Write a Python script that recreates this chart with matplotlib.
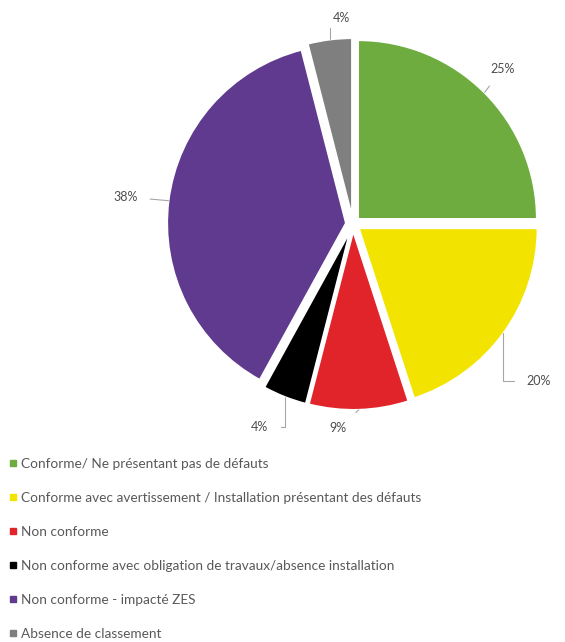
import numpy as np
import matplotlib
matplotlib.use("Agg")
from matplotlib import pyplot as plt
from matplotlib.lines import Line2D

categories = ["Conforme/ Ne présentant pas de défauts",
              "Conforme avec avertissement / Installation présentant des défauts",
              "Non conforme",
              "Non conforme avec obligation de travaux/absence installation",
              "Non conforme - impacté ZES",
              "Absence de classement"]
values = [25, 20, 9, 4, 38, 4]
colors = ["#6fac3f", "#f2e400", "#e1242a", "#000000", "#603a8e", "#7f7f7f"]

# label placement (angle in degrees, distance in radii) and leader style
label_pos = [(46, 1.2), (-40.3, 1.36), (-94.2, 1.14), (-114.6, 1.25), (173.2, 1.28), (93.3, 1.15)]
leaders = ["arc3", "angle,angleA=0,angleB=90", "arc3",
           "angle,angleA=0,angleB=90", "arc3", "angle,angleA=0,angleB=90"]

plt.rcParams['font.family'] = ['Lato', 'DejaVu Sans']
txt_color = "#595959"

fig = plt.figure(figsize=(5.65, 6.42), dpi=100)
ax = fig.add_axes([0, 0, 1, 1])

cx, cy, r = 353, 418, 179
wedges, _ = ax.pie(values, colors=colors, startangle=90, counterclock=False,
                   center=(cx, cy), radius=r, explode=[7] * len(values),
                   wedgeprops=dict(edgecolor='white', linewidth=1.5), frame=True)
ax.set_xlim(0, 565)
ax.set_ylim(0, 642)
ax.set_aspect('equal')
ax.axis('off')

for w, v, (ang, dist), cs in zip(wedges, values, label_pos, leaders):
    mid = np.deg2rad((w.theta1 + w.theta2) / 2)
    ex, ey = w.center
    px = ex + r * np.cos(mid)
    py = ey + r * np.sin(mid)
    tx = cx + dist * r * np.cos(np.deg2rad(ang))
    ty = cy + dist * r * np.sin(np.deg2rad(ang))
    ax.annotate(f"{v}%", xy=(px, py), xytext=(tx, ty), ha='center', va='center',
                fontsize=9, color="#4d4d4d",
                arrowprops=dict(arrowstyle='-', color='#a6a6a6', lw=0.8,
                                shrinkA=7, shrinkB=0, connectionstyle=cs))

handles = [Line2D([], [], marker='s', linestyle='none', markersize=4,
                  markerfacecolor=c, markeredgecolor=c) for c in colors]
leg = fig.legend(handles, categories, loc='upper left', bbox_to_anchor=(0.017, 0.287),
                 frameon=False, fontsize=9.8, labelspacing=1.62, handlelength=0.5,
                 handletextpad=0.35, borderpad=0, borderaxespad=0)
for t in leg.get_texts():
    t.set_color(txt_color)

fig.savefig("out.png", dpi=100)
